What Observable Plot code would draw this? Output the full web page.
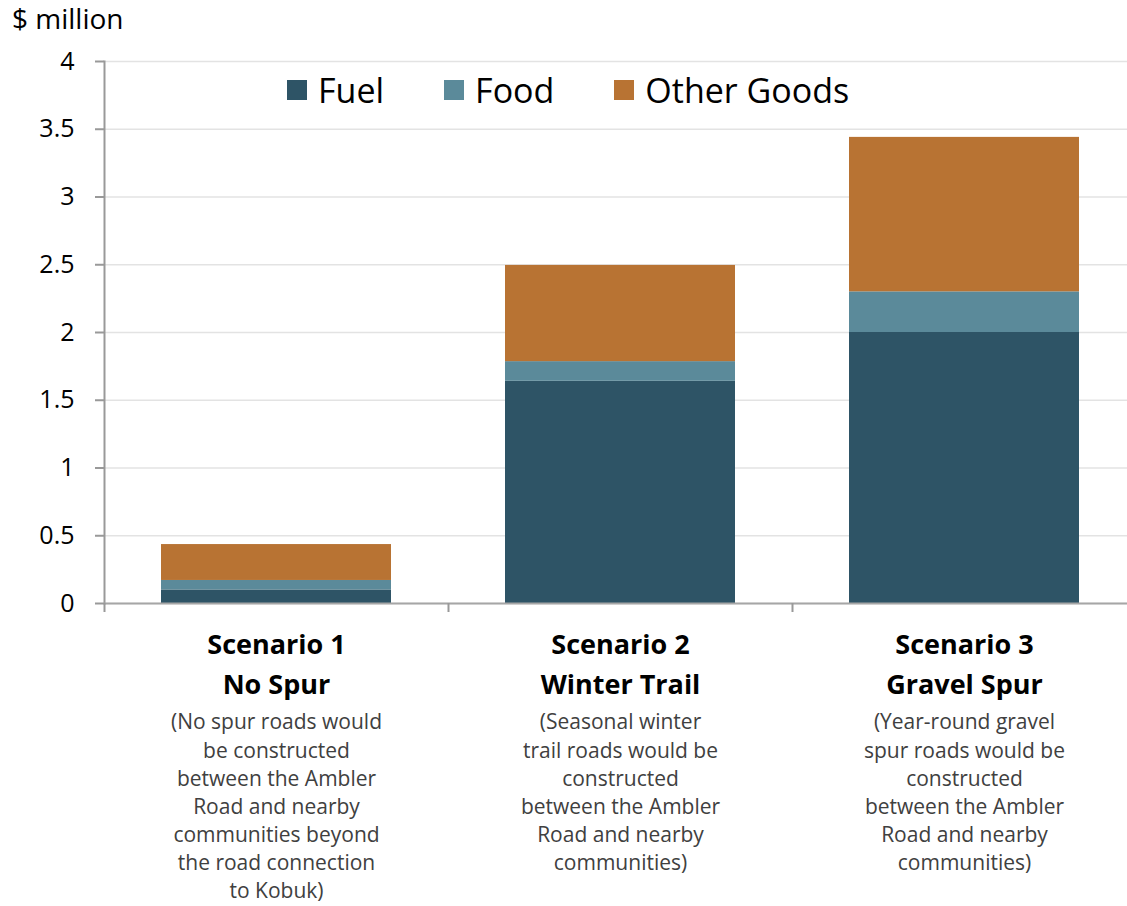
<!DOCTYPE html>
<html>
<head>
<meta charset="utf-8">
<script src="https://cdn.jsdelivr.net/npm/d3@7"></script>
<script src="https://cdn.jsdelivr.net/npm/@observablehq/plot@0.6"></script>
<style>
  body { margin: 0; background: #fff; font-family: "Open Sans", sans-serif; }
  #wrap { position: relative; width: 1127px; height: 906px; overflow: hidden; }
  #unit { position: absolute; left: 12px; top: -1px; font-size: 28px; color: #000; }
  #legend { position: absolute; left: 287px; top: 67px; display: flex; align-items: center; font-size: 34px; color: #000; }
  #legend .item { display: flex; align-items: center; margin-right: 60px; }
  #legend .sw { width: 20px; height: 20px; margin-right: 11px; }
</style>
</head>
<body>
<div id="wrap">
  <div id="chart"></div>
  <div id="unit">$ million</div>
  <div id="legend"></div>
</div>
<script>
const categories = ["Scenario 1", "Scenario 2", "Scenario 3"];
const titles = ["Scenario 1\nNo Spur", "Scenario 2\nWinter Trail", "Scenario 3\nGravel Spur"];
const descriptions = [
  "(No spur roads would\nbe constructed\nbetween the Ambler\nRoad and nearby\ncommunities beyond\nthe road connection\nto Kobuk)",
  "(Seasonal winter\ntrail roads would be\nconstructed\nbetween the Ambler\nRoad and nearby\ncommunities)",
  "(Year-round gravel\nspur roads would be\nconstructed\nbetween the Ambler\nRoad and nearby\ncommunities)"
];
const seriesNames = ["Fuel", "Food", "Other Goods"];
const fuel = [0.10, 1.64, 2.00];
const food = [0.07, 0.145, 0.30];
const otherGoods = [0.265, 0.71, 1.14];
const seriesColors = ["#2e5466", "#5b8a9a", "#b87333"];
const yTicks = [0, 0.5, 1, 1.5, 2, 2.5, 3, 3.5, 4];

const rows = [];
categories.forEach((c, i) => {
  rows.push({cat: c, series: "Fuel", value: fuel[i]});
  rows.push({cat: c, series: "Food", value: food[i]});
  rows.push({cat: c, series: "Other Goods", value: otherGoods[i]});
});
const labels = categories.map((c, i) => ({cat: c, title: titles[i], desc: descriptions[i]}));

const xLeft = 104, xRight = 1136;
const band = (xRight - xLeft) / categories.length;

const chart = Plot.plot({
  width: 1127,
  height: 906,
  marginTop: 61,
  marginBottom: 303,
  marginLeft: 104,
  marginRight: 0,
  style: {fontFamily: "'Open Sans', sans-serif", background: "#fff", overflow: "visible"},
  x: {domain: categories, range: [xLeft, xRight], paddingInner: 0.33, paddingOuter: 0.165, axis: null},
  y: {domain: [0, 4], ticks: yTicks},
  color: {domain: seriesNames, range: seriesColors},
  marks: [
    Plot.gridY(yTicks, {stroke: "#e3e3e3", strokeOpacity: 1, strokeWidth: 1.3}),
    Plot.barY(rows, {x: "cat", y: "value", fill: "series", order: seriesNames}),
    Plot.axisY(yTicks, {tickSize: 9, tickPadding: 21, fontSize: 25, stroke: "#999", strokeWidth: 2, fill: "#000", label: null, tickFormat: d => String(d)}),
    Plot.frame({anchor: "left", stroke: "#999", strokeWidth: 2}),
    Plot.ruleY([0], {stroke: "#a6a6a6", strokeWidth: 2}),
    Plot.ruleX(categories, {x: d => d, y1: 0, y2: 0, insetBottom: -9, dx: -band / 2, stroke: "#999", strokeWidth: 2}),
    Plot.text(labels, {x: "cat", y: 0, text: "title", lineAnchor: "top", dy: 22, fontSize: 27, fontWeight: "bold", lineHeight: 1.48, fill: "#000"}),
    Plot.text(labels, {x: "cat", y: 0, text: "desc", lineAnchor: "top", dy: 106, fontSize: 21, lineHeight: 1.34, fill: "#404040"})
  ]
});
document.getElementById("chart").appendChild(chart);

const legend = document.getElementById("legend");
seriesNames.forEach((s, i) => {
  const item = document.createElement("div");
  item.className = "item";
  const sw = document.createElement("div");
  sw.className = "sw";
  sw.style.background = seriesColors[i];
  const t = document.createElement("span");
  t.textContent = s;
  item.appendChild(sw);
  item.appendChild(t);
  legend.appendChild(item);
});
</script>
</body>
</html>
